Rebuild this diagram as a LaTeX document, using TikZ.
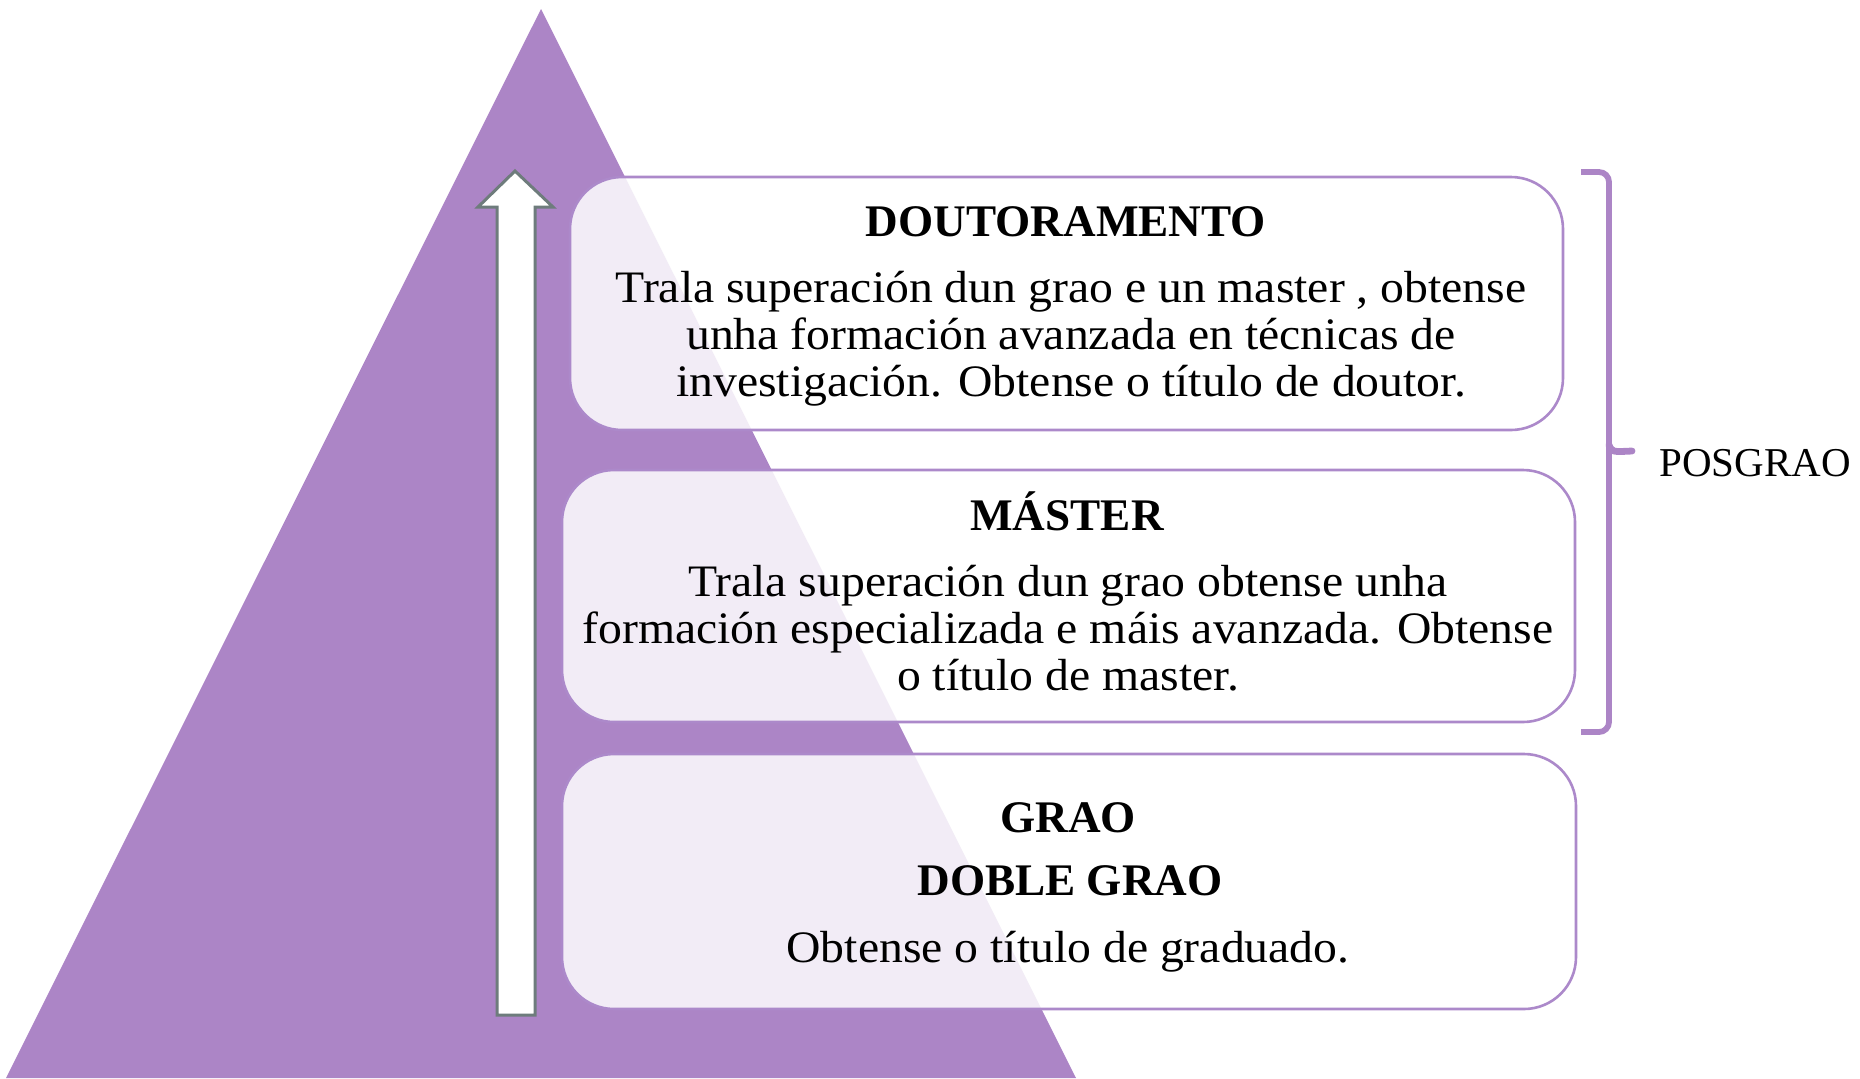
\documentclass[tikz,border=0pt]{standalone}
\usepackage{fontspec}
\setmainfont{Liberation Serif}
\newfontfamily\bodyfont[FakeStretch=1.06]{Liberation Serif}
\definecolor{tri}{RGB}{172,133,198}
\definecolor{boxline}{RGB}{172,137,202}
\definecolor{arrowline}{RGB}{110,124,124}
\begin{document}
\begin{tikzpicture}[x=0.5pt,y=-0.5pt,
  box/.style={draw=boxline, line width=1.3pt, fill=white, fill opacity=0.85, text opacity=1,
    rounded corners=26pt, inner sep=0pt},
  ttl/.style={font=\fontsize{22.6}{26}\selectfont\bfseries, inner sep=0pt},
  body/.style={font=\bodyfont\fontsize{22.5}{23.5}\selectfont, align=center, inner sep=0pt},
  bracestyle/.style={draw=tri, line width=2.9pt}]
\useasboundingbox (0,0) rectangle (1860,1078);
% pyramid
\fill[tri] (541,9) -- (1076,1078) -- (6,1078) -- cycle;
% upward arrow
\draw[arrowline, line width=1.5pt, fill=white, line join=miter]
  (497,1015) -- (497,207) -- (478,207) -- (515,171) -- (553,207) -- (535,207) -- (535,1015) -- cycle;
% boxes
\node[box, minimum width=496.5pt, minimum height=126.5pt] (b1) at (1066.5,303.5) {};
\node[box, minimum width=506.5pt, minimum height=126pt] (b2) at (1068.5,596) {};
\node[box, minimum width=507pt, minimum height=127.5pt] (b3) at (1069,881.5) {};
% texts box 1
\node[ttl] (t1) at (1066,222) {DOUTORAMENTO};
\node[body] (d1) at (1071,339) {Trala superación dun grao e un master , obtense\\unha formación avanzada en técnicas de\\investigación. Obtense o título de doutor.};
% texts box 2
\node[ttl] (t2) at (1067,511) {MÁSTER};
\node[body] (d2) at (1068,628) {Trala superación dun grao obtense unha\\formación especializada e máis avanzada. Obtense\\o título de master.};
% texts box 3
\node[ttl] (t3) at (1068,818) {GRAO};
\node[ttl] (t4) at (1070,881) {DOBLE GRAO};
\node[body] (d3) at (1068,952) {Obtense o título de graduado.};
% brace
\draw[bracestyle, rounded corners=5pt] (1581,172) -- (1609,172) -- (1609,732) -- (1581,732);
\draw[bracestyle, line width=3.4pt, line cap=round] (1609,445) .. controls (1612,452) .. (1632,451);
\node[font=\fontsize{20.5}{24}\selectfont, inner sep=0pt] (pos) at (1755,463) {POSGRAO};
\end{tikzpicture}
\end{document}
